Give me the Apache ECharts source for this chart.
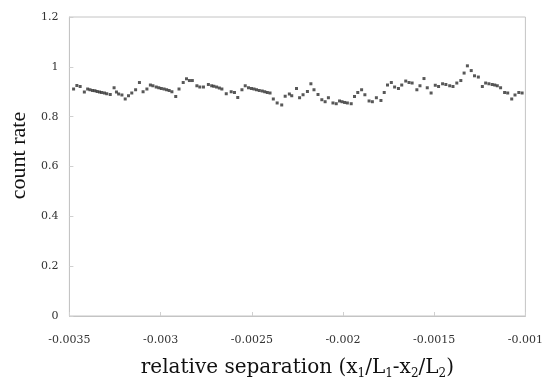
<!DOCTYPE html>
<html><head><meta charset="utf-8">
<script src="https://cdn.jsdelivr.net/npm/echarts@6/dist/echarts.min.js"></script>
<style>html,body{margin:0;padding:0;background:#fff}#c{width:546px;height:385px}</style>
</head><body><div id="c"></div>
<script>
// x positions (relative separation, units of 1e-6)
var xVals = [-3477,-3459,-3441,-3418,-3400,-3387,-3373,-3360,-3348,-3335,-3323,-3308,-3295,-3276,-3255,-3242,-3230,-3212,-3194,-3176,-3158,-3137,-3116,-3096,-3075,-3056,-3042,-3024,-3010,-2996,-2981,-2967,-2953,-2938,-2917,-2899,-2876,-2858,-2842,-2826,-2801,-2785,-2765,-2738,-2720,-2708,-2693,-2678,-2664,-2640,-2613,-2595,-2577,-2554,-2536,-2518,-2502,-2488,-2474,-2459,-2443,-2429,-2415,-2400,-2382,-2361,-2336,-2317,-2294,-2281,-2255,-2238,-2219,-2195,-2176,-2159,-2137,-2116,-2098,-2080,-2055,-2037,-2019,-2005,-1991,-1976,-1955,-1937,-1919,-1898,-1880,-1857,-1839,-1817,-1792,-1774,-1756,-1735,-1717,-1696,-1678,-1656,-1638,-1621,-1595,-1578,-1556,-1538,-1517,-1494,-1476,-1454,-1436,-1415,-1397,-1376,-1354,-1336,-1318,-1297,-1279,-1258,-1236,-1218,-1200,-1182,-1168,-1154,-1136,-1114,-1097,-1075,-1057,-1036,-1018];
// count rate values
var countRate = [0.911,0.925,0.921,0.899,0.911,0.908,0.905,0.904,0.901,0.899,0.897,0.895,0.892,0.889,0.916,0.899,0.891,0.887,0.871,0.884,0.895,0.908,0.937,0.900,0.911,0.927,0.924,0.919,0.916,0.913,0.911,0.908,0.905,0.900,0.881,0.911,0.937,0.952,0.945,0.945,0.924,0.919,0.919,0.929,0.924,0.922,0.919,0.915,0.911,0.892,0.900,0.897,0.877,0.908,0.924,0.916,0.913,0.911,0.908,0.905,0.903,0.900,0.897,0.895,0.871,0.855,0.847,0.882,0.891,0.884,0.913,0.876,0.888,0.901,0.932,0.908,0.889,0.868,0.860,0.876,0.855,0.852,0.863,0.860,0.857,0.855,0.852,0.881,0.897,0.908,0.888,0.863,0.860,0.876,0.865,0.897,0.927,0.937,0.919,0.913,0.927,0.943,0.937,0.935,0.908,0.924,0.953,0.916,0.895,0.926,0.921,0.932,0.929,0.924,0.921,0.935,0.945,0.975,1.004,0.985,0.964,0.959,0.921,0.935,0.932,0.929,0.927,0.924,0.916,0.897,0.895,0.871,0.887,0.897,0.895];
var xTickLabels = ['-0.0035','-0.003','-0.0025','-0.002','-0.0015','-0.001'];
var yTickLabels = ['0','0.2','0.4','0.6','0.8','1','1.2'];

var pts = xVals.map(function(x,i){ return [x*1e-6, countRate[i]]; });
var chart = echarts.init(document.getElementById('c'));
var serif = 'Liberation Serif';
var wide = 'DejaVu Serif';
chart.setOption({
  animation:false,
  grid:{left:63,right:17,top:17,bottom:68,show:true,borderColor:'#c4c4c4',borderWidth:1},
  xAxis:{type:'value',min:-0.0035,max:-0.001,interval:0.0005,
    axisLine:{lineStyle:{color:'#c4c4c4'}},
    axisTick:{inside:true,length:4,lineStyle:{color:'#d0d0d0'}},
    splitLine:{show:false},
    axisLabel:{color:'#333',fontFamily:wide,fontSize:11,margin:19,
      formatter:function(v){var i=Math.round((v+0.0035)/0.0005);return xTickLabels[i]||'';}},
    name:'relative separation (x{s|1}/L{s|1}-x{s|2}/L{s|2})',nameLocation:'middle',nameGap:40,
    nameTextStyle:{color:'#111',fontFamily:wide,fontSize:20,verticalAlign:'top',
      rich:{s:{fontFamily:wide,fontSize:12,verticalAlign:'bottom',padding:[12,0,0,0],color:'#111'}}}
  },
  yAxis:{type:'value',min:0,max:1.2,interval:0.2,
    axisLine:{show:true,lineStyle:{color:'#c4c4c4'}},
    axisTick:{show:true,inside:true,length:4,lineStyle:{color:'#d0d0d0'}},
    splitLine:{show:false},
    axisLabel:{color:'#333',fontFamily:wide,fontSize:11,margin:11,
      formatter:function(v){var i=Math.round(v/0.2);return yTickLabels[i]||'';}},
    name:'count rate',nameLocation:'middle',nameGap:35,nameRotate:90,
    nameTextStyle:{color:'#111',fontFamily:serif,fontSize:22,padding:[0,0,0,22]}
  },
  series:[{type:'scatter',data:pts,symbol:'rect',symbolSize:3,itemStyle:{color:'#2e2e2e'}}]
});
</script></body></html>
